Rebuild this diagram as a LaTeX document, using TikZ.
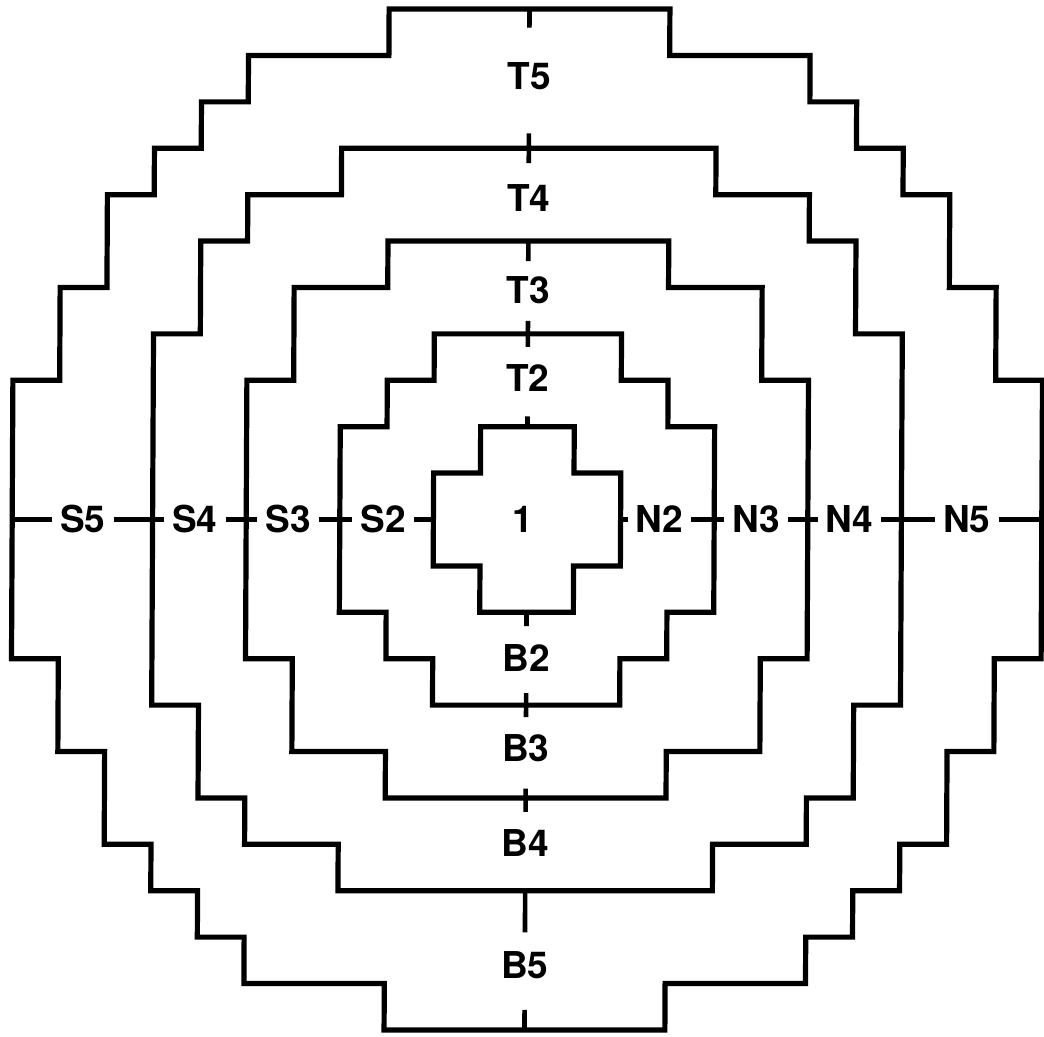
\documentclass[tikz,border=0pt]{standalone}
\usepackage{fontspec}
\setmainfont{TeX Gyre Heros}
\begin{document}
\begin{tikzpicture}[x={(46.8pt,0pt)}, y={(0.23pt,46.4pt)},
  ring/.style={line width=5.2pt, line join=miter, line cap=rect},
  axisline/.style={line width=4.6pt},
  tickmark/.style={line width=4.6pt},
  lab/.style={font=\fontsize{37}{37}\selectfont\bfseries, inner xsep=8pt, inner ysep=3pt}]
\useasboundingbox (-527pt,-516.5pt) rectangle (517pt,519.5pt);
\fill[white] (-527pt,-516.5pt) rectangle (517pt,519.5pt);

% ring 1 (cross)
\draw[ring] (-1,2) -- (1,2) -- (1,1) -- (2,1) -- (2,-1) -- (1,-1) -- (1,-2)
  -- (-1,-2) -- (-1,-1) -- (-2,-1) -- (-2,1) -- (-1,1) -- cycle;
% ring 2
\draw[ring] (-2,4) -- (2,4) -- (2,3) -- (3,3) -- (3,2) -- (4,2) -- (4,-2)
  -- (3,-2) -- (3,-3) -- (2,-3) -- (2,-4) -- (-2,-4) -- (-2,-3) -- (-3,-3)
  -- (-3,-2) -- (-4,-2) -- (-4,2) -- (-3,2) -- (-3,3) -- (-2,3) -- cycle;
% ring 3
\draw[ring] (-3,6) -- (3,6) -- (3,5) -- (5,5) -- (5,3) -- (6,3) -- (6,-3)
  -- (5,-3) -- (5,-5) -- (3,-5) -- (3,-6) -- (-3,-6) -- (-3,-5) -- (-5,-5)
  -- (-5,-3) -- (-6,-3) -- (-6,3) -- (-5,3) -- (-5,5) -- (-3,5) -- cycle;
% ring 4
\draw[ring] (-4,8) -- (4,8) -- (4,7) -- (6,7) -- (6,6) -- (7,6) -- (7,4) -- (8,4)
  -- (8,-4) -- (7,-4) -- (7,-6) -- (6,-6) -- (6,-7) -- (4,-7) -- (4,-8)
  -- (-4,-8) -- (-4,-7) -- (-6,-7) -- (-6,-6) -- (-7,-6) -- (-7,-4) -- (-8,-4)
  -- (-8,4) -- (-7,4) -- (-7,6) -- (-6,6) -- (-6,7) -- (-4,7) -- cycle;
% ring 5
\draw[ring] (-3,11) -- (3,11) -- (3,10) -- (6,10) -- (6,9) -- (7,9) -- (7,8)
  -- (8,8) -- (8,7) -- (9,7) -- (9,5) -- (10,5) -- (10,3) -- (11,3)
  -- (11,-3) -- (10,-3) -- (10,-5) -- (9,-5) -- (9,-7) -- (8,-7) -- (8,-8)
  -- (7,-8) -- (7,-9) -- (6,-9) -- (6,-10) -- (3,-10) -- (3,-11)
  -- (-3,-11) -- (-3,-10) -- (-6,-10) -- (-6,-9) -- (-7,-9) -- (-7,-8)
  -- (-8,-8) -- (-8,-7) -- (-9,-7) -- (-9,-5) -- (-10,-5) -- (-10,-3) -- (-11,-3)
  -- (-11,3) -- (-10,3) -- (-10,5) -- (-9,5) -- (-9,7) -- (-8,7) -- (-8,8)
  -- (-7,8) -- (-7,9) -- (-6,9) -- (-6,10) -- (-3,10) -- cycle;

% labels
\node[lab] (c1) at (-0.1,0) {1};
\node[lab] (S5) at (-9.49,0) {S5};
\node[lab] (S4) at (-7.10,0) {S4};
\node[lab] (S3) at (-5.10,0) {S3};
\node[lab] (S2) at (-3.07,0) {S2};
\node[lab] (N2) at (2.83,0) {N2};
\node[lab] (N3) at (4.90,0) {N3};
\node[lab] (N4) at (6.89,0) {N4};
\node[lab] (N5) at (9.40,0) {N5};
\node[lab] (T5) at (0,9.56) {T5};
\node[lab] (T4) at (0,6.93) {T4};
\node[lab] (T3) at (0,4.95) {T3};
\node[lab] (T2) at (0,3.05) {T2};
\node[lab] (B2) at (0,-2.98) {B2};
\node[lab] (B3) at (0,-4.92) {B3};
\node[lab] (B4) at (0,-6.97) {B4};
\node[lab] (B5) at (0,-9.60) {B5};

% horizontal axis
\coordinate (L5) at (-11,0);
\coordinate (L1) at (-2,0);
\coordinate (R1) at (2,0);
\coordinate (R5) at (11,0);
\draw[axisline] (L5) -- (S5);
\draw[axisline] (S5) -- (S4);
\draw[axisline] (S4) -- (S3);
\draw[axisline] (S3) -- (S2);
\draw[axisline] (S2) -- (L1);
\draw[axisline] (R1) -- (N2);
\draw[axisline] (N2) -- (N3);
\draw[axisline] (N3) -- (N4);
\draw[axisline] (N4) -- (N5);
\draw[axisline] (N5) -- (R5);

% vertical tick marks on the rings
\draw[tickmark] (0,11) -- (0,10.6);
\draw[tickmark] (0,8.32) -- (0,7.68);
\draw[tickmark] (0,6) -- (0,5.57);
\draw[tickmark] (0,4.28) -- (0,3.72);
\draw[tickmark] (0,2.22) -- (0,2);
\draw[tickmark] (0,-2) -- (0,-2.3);
\draw[tickmark] (0,-3.74) -- (0,-4.26);
\draw[tickmark] (0,-5.8) -- (0,-6.3);
\draw[tickmark] (0,-7.95) -- (0,-8.9);
\draw[tickmark] (0,-11) -- (0,-10.57);
\end{tikzpicture}
\end{document}
